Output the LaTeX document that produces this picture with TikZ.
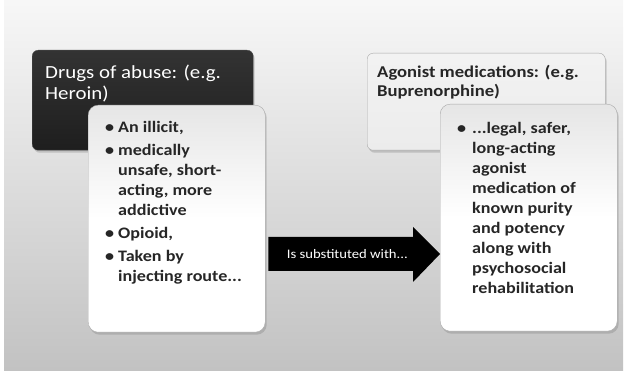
\documentclass[tikz,border=0pt]{standalone}
\usepackage{fontspec}
\setmainfont{Carlito}[FakeStretch=1.13]
\usetikzlibrary{shadows,calc}
\definecolor{darkfill}{HTML}{1E1E1E}
\definecolor{lightfill}{HTML}{ECECEC}
\definecolor{boxline}{HTML}{A8A8A8}
\tikzset{
  boxshadow/.style={drop shadow={opacity=0.35,shadow xshift=1.5pt,shadow yshift=-2.5pt}},
  darkbox/.style={anchor=north west,rounded corners=6pt,draw=black!70,top color=black!80,bottom color=darkfill,boxshadow,inner sep=0pt},
  headbox/.style={anchor=north west,rounded corners=6pt,draw=boxline,top color=white!95!black,bottom color=lightfill,boxshadow,inner sep=0pt},
  whitebox/.style={anchor=north west,rounded corners=10pt,draw=boxline,top color=white!90!black,bottom color=white,middle color=white,boxshadow,inner sep=0pt},
  headtext/.style={anchor=north west,inner sep=0pt,align=left},
  bullettext/.style={anchor=north west,inner sep=0pt,align=left,font=\fontsize{16}{20}\selectfont\bfseries,text=black!85},
}
\newcommand\bl{\makebox[13pt][l]{•}}
\newcommand\ind{\hspace*{13pt}}
\newcommand\blr{\makebox[15pt][l]{•}}
\newcommand\indr{\hspace*{15pt}}
\begin{document}
\begin{tikzpicture}[x=1pt,y=-1pt]
\useasboundingbox (0,0) rectangle (627,371);
\shade[top color=white!97!black,bottom color=black!24] (4,0) rectangle (623,371);
% left header
\node[darkbox,minimum width=221,minimum height=100] (dark) at (32,50) {};
\node[headtext,text=white,font=\fontsize{18.5}{21}\selectfont] (darkt) at ($(dark.north west)+(13,15)$) {Drugs of abuse: (e.g.\\Heroin)};
% right header
\node[headbox,minimum width=238,minimum height=97] (light) at (367,53) {};
\node[headtext,text=black!85,font=\fontsize{16.5}{19}\selectfont\bfseries] (lightt) at ($(light.north west)+(10,12)$) {Agonist medications: (e.g.\\Buprenorphine)};
% left white box
\node[whitebox,minimum width=177,minimum height=227] (lw) at (88,105) {};
\node[bullettext] (lwt) at ($(lw.north west)+(17,16.5)$) {\bl An illicit,\\[3pt]
\bl medically\\
\ind unsafe, short-\\
\ind acting, more\\
\ind addictive\\[3pt]
\bl Opioid,\\[3pt]
\bl Taken by\\
\ind injecting route...};
% right white box
\node[whitebox,minimum width=177,minimum height=227] (rw) at (440,104) {};
\node[bullettext] (rwt) at ($(rw.north west)+(17,18)$) {\blr ...legal, safer,\\
\indr long-acting\\
\indr agonist\\
\indr medication of\\
\indr known purity\\
\indr and potency\\
\indr along with\\
\indr psychosocial\\
\indr rehabilitation};
% arrow
\coordinate (atail) at ($(lw.east |- 0,254)+(3,0)$);
\coordinate (atip) at (rw.west |- atail);
\fill[black] ($(atail)+(0,-17)$) -- ($(atip)+(-27,-17)$) -- ($(atip)+(-27,-27)$) -- (atip) -- ($(atip)+(-27,28)$) -- ($(atip)+(-27,17)$) -- ($(atail)+(0,17)$) -- cycle;
\node[text=white,font=\fontsize{13}{15}\selectfont,inner sep=0pt] (alabel) at ($(atail)!0.46!(atip)$) {Is substituted with...};
\end{tikzpicture}
\end{document}
